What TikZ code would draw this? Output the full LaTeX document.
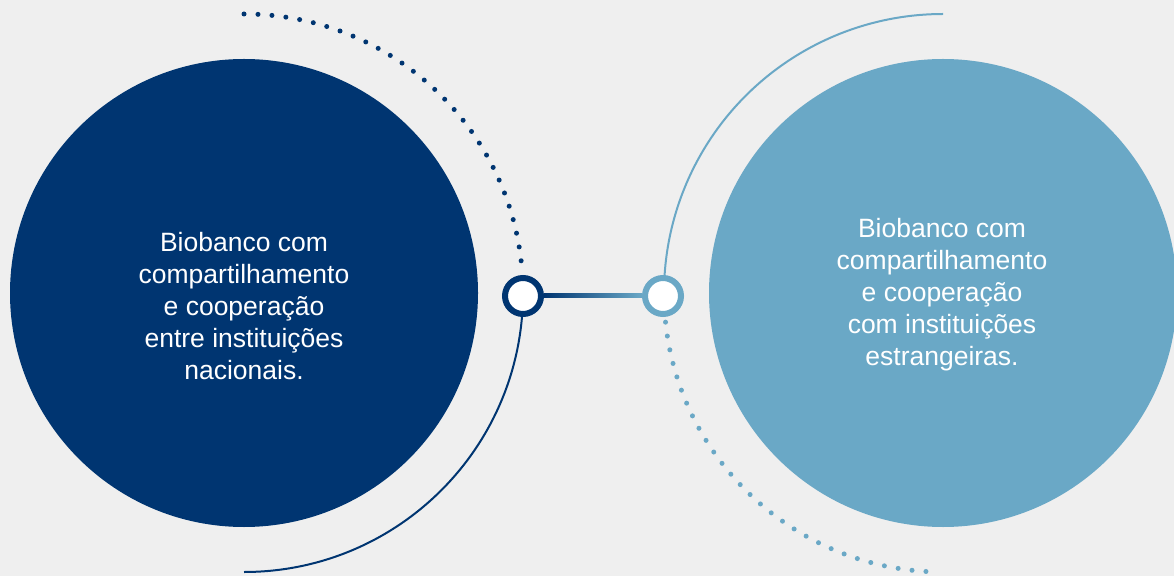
\documentclass[tikz,border=0pt]{standalone}
\usepackage{fontspec}
\setmainfont{Liberation Sans}
\usetikzlibrary{calc}
\definecolor{navy}{RGB}{0,53,113}
\definecolor{sky}{RGB}{106,168,198}
\definecolor{paper}{RGB}{239,239,239}

\begin{document}
\begin{tikzpicture}[x=1pt, y=1pt,
    bigdisc/.style={circle, minimum size=468pt, inner sep=0pt},
    disctext/.style={text=white, align=center, font=\fontsize{26.5}{32}\selectfont},
    knob/.style={circle, draw, line width=6pt, fill=white, minimum size=36pt, inner sep=0pt},
    dots/.style={line width=5pt, line cap=round, dash pattern=on 0pt off 14pt}]
    \useasboundingbox[fill=paper] (0,0) rectangle (1174,576);

    % Big discs
    \node[bigdisc, fill=navy] (nac) at (244,283) {};
    \node[bigdisc, fill=sky] (est) at (943,283) {};

    % Texts in the discs
    \node[disctext] (tnac) at (244,270)
      {Biobanco com\\compartilhamento\\e cooperação\\entre instituições\\nacionais.};
    \node[disctext] (test) at (942,281)
      {Biobanco com\\compartilhamento\\e cooperação\\com instituições\\estrangeiras.};

    % Arcs round the discs
    \draw[navy, dots] (nac.center) ++(90:279) arc[start angle=90, end angle=6, radius=279];
    \draw[navy, line width=2pt] (nac.center) ++(-1:279) arc[start angle=-1, end angle=-90, radius=279];
    \draw[sky, line width=2pt] (est.center) ++(90:279) arc[start angle=90, end angle=181, radius=279];
    \draw[sky, dots] (est.center) ++(186:279) arc[start angle=186, end angle=268, radius=279];

    % Knobs and the link between them
    \node[knob, draw=navy] (kl) at (523,280) {};
    \node[knob, draw=sky] (kr) at (663,280) {};
    \shade[left color=navy, right color=sky] ($(kl.east)+(0,-2)$) rectangle ($(kr.west)+(0,2)$);
\end{tikzpicture}
\end{document}
